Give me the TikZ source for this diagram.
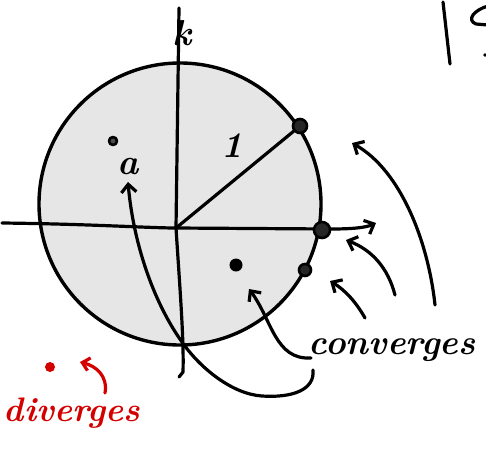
\documentclass[tikz,border=0pt]{standalone}
\usepackage{fontspec}
\usetikzlibrary{arrows.meta}
\definecolor{diskfill}{HTML}{E6E6E6}
\definecolor{redink}{HTML}{D40000}
\begin{document}
\begin{tikzpicture}[x=1pt,y=-1pt,line cap=round,line join=round,
  ink/.style={line width=3.2pt,black},
  arr/.style={ink,-{Straight Barb[length=8pt,width=15pt,line width=3.2pt]}},
  rarr/.style={line width=3.2pt,redink,-{Straight Barb[length=7pt,width=13pt,line width=3.2pt]}},
  pt/.style={circle,draw,line width=2.6pt,fill=black!85,inner sep=0pt},
  lbl/.style={font=\fontsize{36}{36}\selectfont\bfseries\itshape,inner sep=0pt}]
\useasboundingbox (0,0) rectangle (486,466);
% disk
\node[circle,draw,line width=3.4pt,fill=diskfill,minimum size=282pt,inner sep=0pt] (disk) at (180,204) {};
% axes
\coordinate (xl) at (2,223);
\coordinate (xm) at (330,229);
\coordinate (xr) at (376,223);
\coordinate (yt) at (179,8);
\coordinate (O) at (176,228);
\coordinate (yb) at (183,372);
\coordinate (yh) at (179,377);
\draw[ink] (xl) .. controls (90,224) and (150,228) .. (O) -- (xm);
\draw[arr] (xm) .. controls (350,229) and (365,228) .. (xr);
\draw[ink] (yt) -- (O) .. controls (180,290) and (184,340) .. (yb) -- (yh);
% points
\node[pt,minimum size=14pt] (p1) at (300,126) {};
\node[pt,minimum size=16pt] (p2) at (322,230) {};
\node[pt,minimum size=12pt] (p3) at (305,270) {};
\node[circle,fill=black,minimum size=13pt,inner sep=0pt] (p4) at (236,265) {};
\node[circle,draw,line width=2.6pt,fill=black!70,minimum size=8pt,inner sep=0pt] (pa) at (113,141) {};
% radius
\draw[ink] (O) -- (p1);
% labels
\node[lbl] (k) at (182,33) {k};
\node[lbl] (one) at (232,146) {1};
\node[lbl] (a) at (128,167) {a};
\node[font=\fontsize{35}{35}\selectfont\bfseries\itshape,inner sep=0pt] (conv) at (392,350) {converges};
\node[font=\fontsize{34}{34}\selectfont\bfseries\itshape,text=redink,inner sep=0pt] (div) at (72,413) {diverges};
% arrows from "converges"
\coordinate (c1) at (435,305);
\coordinate (c2) at (395,295);
\coordinate (c3) at (365,318);
\coordinate (c4) at (311,358);
\coordinate (c5) at (313,370);
\draw[arr] (c1) .. controls (428,240) and (400,170) .. (352,143);
\draw[arr] (c2) .. controls (388,268) and (372,250) .. (346,240);
\draw[arr] (c3) .. controls (356,302) and (345,290) .. (330,281);
\draw[arr] (c4) .. controls (275,360) and (272,320) .. (249,289);
\draw[arr] (c5) .. controls (315,390) and (292,398) .. (262,396)
  .. controls (232,394) and (200,368) .. (182,342)
  .. controls (152,300) and (133,240) .. (128,182);
% red divergence
\node[circle,fill=redink,minimum size=10pt,inner sep=0pt] (rdot) at (50,367) {};
\coordinate (r1) at (105,393);
\draw[rarr] (r1) .. controls (108,376) and (96,366) .. (80,362);
% top-right fragment
\coordinate (s1) at (443,2);
\coordinate (s2) at (450,64);
\draw[ink] (s1) -- (s2);
\draw[ink] (488,6) .. controls (474,10) and (466,20) .. (476,24) -- (488,25);
\fill (485,55) circle (1.8pt);
\end{tikzpicture}
\end{document}
